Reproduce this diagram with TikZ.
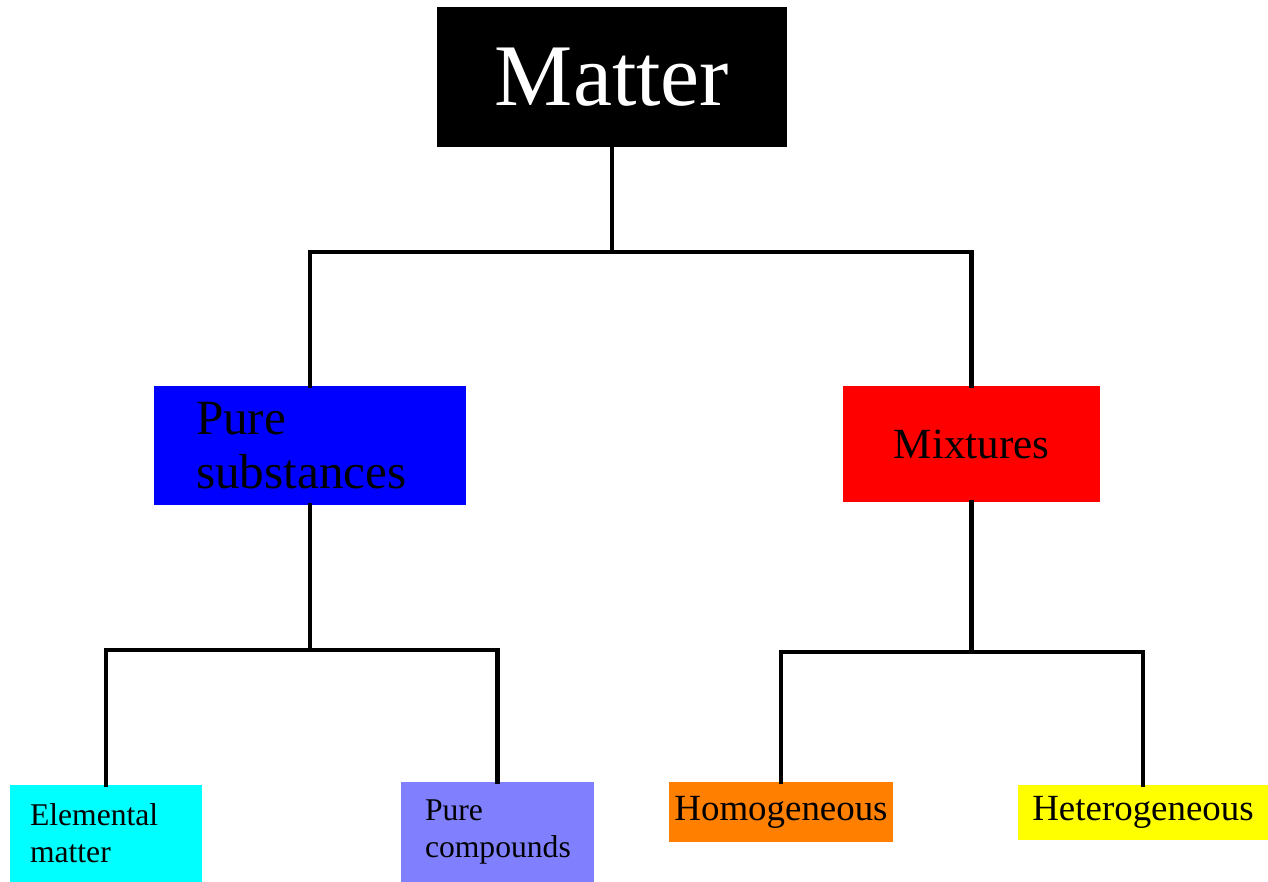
\documentclass[tikz,border=0pt]{standalone}
\usepackage{fontspec}
\setmainfont{Liberation Serif}
\usepackage{tikz}
\usetikzlibrary{positioning,calc}
\usepackage{xcolor}

\definecolor{purebl}{RGB}{0,0,255}
\definecolor{mixred}{RGB}{255,0,0}
\definecolor{elemcy}{RGB}{0,255,255}
\definecolor{complav}{RGB}{128,128,255}
\definecolor{homoor}{RGB}{255,128,0}
\definecolor{hetyel}{RGB}{255,255,0}

\begin{document}
\begin{tikzpicture}[
  every node/.style = { shape=rectangle, inner sep=0pt, align=center},
  link/.style = {line width=2.3pt, line cap=rect},
  leaf/.style = { align=left, text width=#1, font=\fontsize{18}{21}\selectfont}]

\useasboundingbox (0,0) rectangle (25.36,-17.64);

\node (matter) [fill=black, text=white, minimum width=7cm, minimum height=2.8cm,
	 font=\fontsize{50}{60}\selectfont] at (12.24,-1.54) {Matter};

\node (pure) [fill=purebl, minimum width=6.24cm, minimum height=2.38cm, align=left,
	 inner xsep=0.84cm, text width=4.56cm,
	 font=\fontsize{28}{31}\selectfont] at (6.2,-8.91) {Pure\\substances};
\node (mix) [fill=mixred, minimum width=5.14cm, minimum height=2.32cm,
	 font=\fontsize{24.5}{29}\selectfont] at (19.43,-8.88) {Mixtures};

\node (elem) [fill=elemcy, minimum width=3.84cm, minimum height=1.94cm,
	 inner xsep=0.4cm, leaf=3.04cm] at (2.12,-16.67) {Elemental\\matter};
\node (comp) [fill=complav, minimum width=3.86cm, minimum height=2cm,
	 inner xsep=0.48cm, leaf=2.9cm] at (9.95,-16.64) {Pure\\compounds};
\node (homo) [fill=homoor, minimum width=4.48cm, minimum height=1.2cm,
	 font=\fontsize{21}{25}\selectfont] at (15.62,-16.24) {Homogeneous};
\node (hetero) [fill=hetyel, minimum width=5cm, minimum height=1.1cm,
	 font=\fontsize{21}{25}\selectfont] at (22.86,-16.25) {Heterogeneous};

% fork levels
\coordinate (bar0) at (0,-5.04);
\coordinate (bar1) at (0,-13.0);
\coordinate (bar2) at (0,-13.04);

\draw[link] (matter.south) -- (matter.south |- bar0);
\draw[link] (pure.north) -- (pure.north |- bar0) -- (mix.north |- bar0) -- (mix.north);

\draw[link] (pure.south) -- (pure.south |- bar1);
\draw[link] (elem.north) -- (elem.north |- bar1) -- (comp.north |- bar1) -- (comp.north);

\draw[link] (mix.south) -- (mix.south |- bar2);
\draw[link] (homo.north) -- (homo.north |- bar2) -- (hetero.north |- bar2) -- (hetero.north);
\end{tikzpicture}
\end{document}
